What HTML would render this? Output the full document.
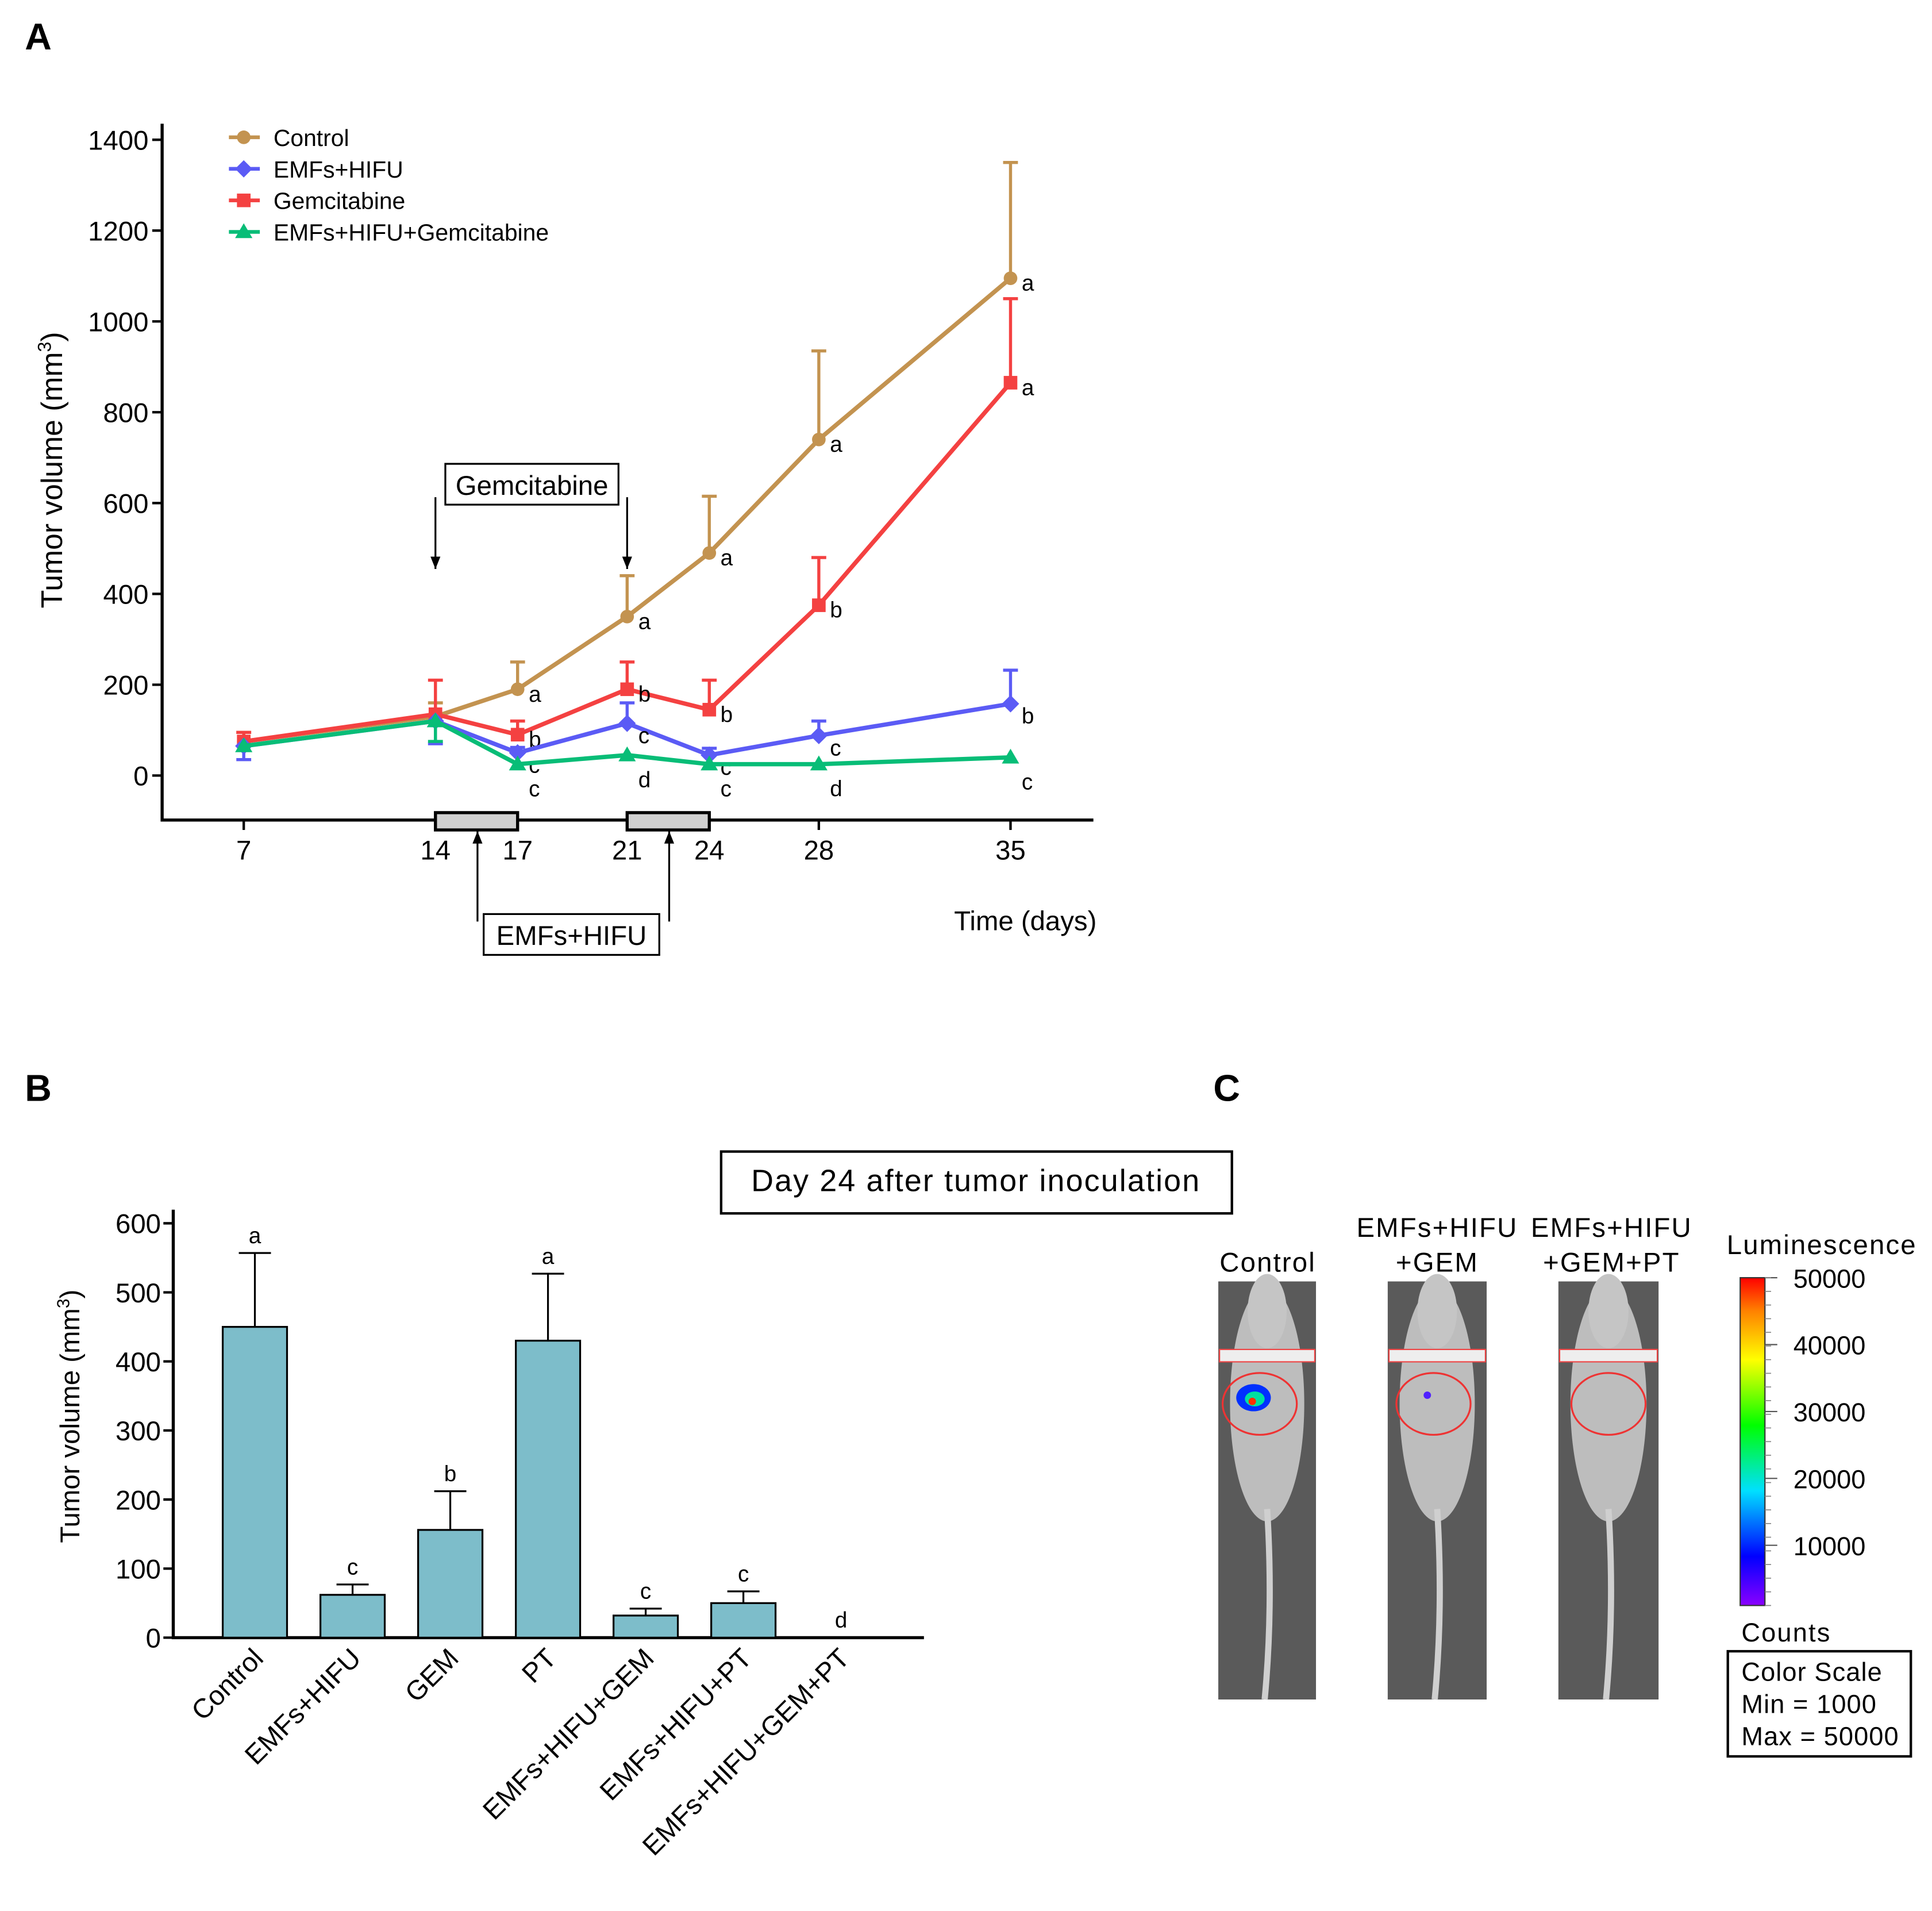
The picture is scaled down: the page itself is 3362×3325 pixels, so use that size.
<!DOCTYPE html>
<html><head><meta charset="utf-8"><style>
html,body{margin:0;padding:0;background:#fff}
svg{display:block}
text{font-family:"Liberation Sans",Arial,sans-serif}
</style></head><body>
<svg id="fig" width="3362" height="3325" viewBox="0 0 1562 1545" xmlns="http://www.w3.org/2000/svg">
<defs>
<linearGradient id="cbar" x1="0" y1="1" x2="0" y2="0">
<stop offset="0" stop-color="#8a00ff"/><stop offset="0.15" stop-color="#0000ff"/><stop offset="0.35" stop-color="#00e0ff"/><stop offset="0.55" stop-color="#00ff00"/><stop offset="0.75" stop-color="#ffff00"/><stop offset="0.9" stop-color="#ff8000"/><stop offset="1" stop-color="#ff0000"/>
</linearGradient>
<linearGradient id="mouse" x1="0" y1="0" x2="1" y2="0">
<stop offset="0" stop-color="#555"/><stop offset="0.5" stop-color="#a8a8a8"/><stop offset="1" stop-color="#555"/>
</linearGradient>
</defs>
<g id="panelA"></g>
<g id="panelB"></g>
<g id="panelC"></g>
</svg>
<script>
// ---- Panel A data ----
const days = [7,14,17,21,24,28,35];
const ctrlVals = [75,130,190,350,490,740,1095];
const ctrlErr = [95,160,250,440,615,935,1350];
const gemVals = [75,135,90,190,145,375,865];
const gemErr = [95,210,120,250,210,480,1050];
const hifuVals = [65,120,50,115,45,88,158];
const hifuErr = [35,70,62,160,60,120,232];
const comboVals = [65,120,25,45,25,25,40];
const comboErr = [65,75,25,45,25,25,40];
const ctrlLetters = ['','','a','a','a','a','a'];
const gemLetters = ['','','b','b','b','b','a'];
const hifuLetters = ['','','c','c','c','c','b'];
const comboLetters = ['','','c','d','c','d','c'];
const yTicksA = [0,200,400,600,800,1000,1200,1400];
// ---- Panel B data ----
const bCats = ['Control','EMFs+HIFU','GEM','PT','EMFs+HIFU+GEM','EMFs+HIFU+PT','EMFs+HIFU+GEM+PT'];
const bVals = [450,62,156,430,32,50,0];
const bErr = [557,77,212,527,42,67,0];
const bLetters = ['a','c','b','a','c','c','d'];
const yTicksB = [0,100,200,300,400,500,600];
const cbarTicks = [10000,20000,30000,40000,50000];

const NS='http://www.w3.org/2000/svg';
function mk(parent,tag,attrs,txt){const e=document.createElementNS(NS,tag);for(const k in attrs)e.setAttribute(k,attrs[k]);if(txt!==undefined)e.textContent=txt;parent.appendChild(e);return e;}

// ===== Panel A =====
const A=document.getElementById('panelA');
const xA=d=>197+(d-7)*(620/28);
const yA=v=>627-v*(514/1400);
let t=mk(A,'text',{x:20,y:40,'font-size':30,'font-weight':'bold'},'A');

let ax=mk(A,'path',{d:'M131,100 V663 H884',fill:'none',stroke:'#000','stroke-width':2.5});

yTicksA.forEach(v=>{
  const y=yA(v);
  let l=mk(A,'line',{x1:123,x2:131,y1:y,y2:y,stroke:'#000','stroke-width':2});
  
  let tx=mk(A,'text',{x:120,y:y+8,'font-size':22,'text-anchor':'end'},String(v));
  
});
days.forEach(d=>{
  const x=xA(d);
  let l=mk(A,'line',{x1:x,x2:x,y1:663,y2:671,stroke:'#000','stroke-width':2});
  
  let tx=mk(A,'text',{x:x,y:695,'font-size':22,'text-anchor':'middle'},String(d));
  
});
let yt=mk(A,'text',{transform:'translate(50,380) rotate(-90)','font-size':24,'text-anchor':'middle'});

yt.innerHTML='Tumor volume (mm<tspan dy="-9" font-size="15">3</tspan><tspan dy="9">)</tspan>';
let xt=mk(A,'text',{x:829,y:752,'font-size':22,'text-anchor':'middle'},'Time (days)');

// treatment boxes
[[14,17],[21,24]].forEach(p=>{
  let r=mk(A,'rect',{x:xA(p[0]),y:657,width:xA(p[1])-xA(p[0]),height:14,fill:'#d0d0d0',stroke:'#000','stroke-width':2.5});
  
});
// arrows
function arrow(x,y1,y2,name){
  let g=mk(A,'g',{});
  mk(g,'line',{x1:x,x2:x,y1:y1,y2:y2,stroke:'#000','stroke-width':1.5});
  const dir=y2>y1?1:-1;
  mk(g,'polygon',{points:`${x-4},${y2-dir*10} ${x+4},${y2-dir*10} ${x},${y2}`,fill:'#000'});
}
arrow(352,402,460,'gem-arrow-1');arrow(507,402,460,'gem-arrow-2');
arrow(386,745,672,'hifu-arrow-1');arrow(541,745,672,'hifu-arrow-2');
let gb=mk(A,'rect',{x:360,y:375,width:140,height:33,fill:'#fff',stroke:'#000','stroke-width':1.5});

let gt=mk(A,'text',{x:430,y:400,'font-size':22,'text-anchor':'middle'},'Gemcitabine');

let hb=mk(A,'rect',{x:391,y:739,width:142,height:33,fill:'#fff',stroke:'#000','stroke-width':1.5});

let ht=mk(A,'text',{x:462,y:764,'font-size':22,'text-anchor':'middle'},'EMFs+HIFU');


function marker(g,shape,x,y,c){
  if(shape==='circle')mk(g,'circle',{cx:x,cy:y,r:5.5,fill:c});
  else if(shape==='square')mk(g,'rect',{x:x-5.5,y:y-5.5,width:11,height:11,fill:c});
  else if(shape==='diamond')mk(g,'polygon',{points:`${x},${y-7} ${x+7},${y} ${x},${y+7} ${x-7},${y}`,fill:c});
  else mk(g,'polygon',{points:`${x},${y-7} ${x+7},${y+5} ${x-7},${y+5}`,fill:c});
}
const series=[
 {name:'control',label:'Control',vals:ctrlVals,err:ctrlErr,let:ctrlLetters,c:'#c39350',s:'circle',down:false,ly:4},
 {name:'gemcitabine',label:'Gemcitabine',vals:gemVals,err:gemErr,let:gemLetters,c:'#f44141',s:'square',down:false,ly:4},
 {name:'emfs-hifu',label:'EMFs+HIFU',vals:hifuVals,err:hifuErr,let:hifuLetters,c:'#5b5bf5',s:'diamond',down:true,ly:10},
 {name:'emfs-hifu-gem',label:'EMFs+HIFU+Gemcitabine',vals:comboVals,err:comboErr,let:comboLetters,c:'#08bd77',s:'triangle',down:true,ly:20},
];
series.forEach(se=>{
  let g=mk(A,'g',{});
  se.vals.forEach((v,i)=>{
    const x=xA(days[i]);const e=se.err[i];
    if(e!==v){
      let eb=mk(g,'path',{d:`M${x},${yA(v)} V${yA(e)} M${x-6},${yA(e)} H${x+6}`,stroke:se.c,'stroke-width':2.5,fill:'none'});
      
    }
  });
  let p=mk(g,'polyline',{points:se.vals.map((v,i)=>xA(days[i])+','+yA(v)).join(' '),fill:'none',stroke:se.c,'stroke-width':3.5});
  
  se.vals.forEach((v,i)=>{
    marker(g,se.s,xA(days[i]),yA(v),se.c);
    if(se.let[i]){let lt=mk(g,'text',{x:xA(days[i])+9,y:yA(v)+se.ly+6,'font-size':18},se.let[i]);
      }
  });
});
// legend
const legOrder=[series[0],series[2],series[1],series[3]];
legOrder.forEach((se,i)=>{
  const y=111+i*25.5;
  let g=mk(A,'g',{});
  mk(g,'line',{x1:185,x2:210,y1:y,y2:y,stroke:se.c,'stroke-width':3});
  marker(g,se.s,197,y,se.c);
  mk(g,'text',{x:221,y:y+7,'font-size':19},se.label);
});

// ===== Panel B =====
const B=document.getElementById('panelB');
const yB=v=>1324-v*(335/600);
const xB=i=>206+i*79;
t=mk(B,'text',{x:20,y:890,'font-size':30,'font-weight':'bold'},'B');

let bx=mk(B,'path',{d:'M140,978 V1324 H747',fill:'none',stroke:'#000','stroke-width':2.5});

yTicksB.forEach(v=>{
  const y=yB(v);
  let l=mk(B,'line',{x1:132,x2:140,y1:y,y2:y,stroke:'#000','stroke-width':2});
  
  let tx=mk(B,'text',{x:130,y:y+8,'font-size':22,'text-anchor':'end'},String(v));
  
});
let byt=mk(B,'text',{transform:'translate(64,1145) rotate(-90)','font-size':22,'text-anchor':'middle'});

byt.innerHTML='Tumor volume (mm<tspan dy="-8" font-size="14">3</tspan><tspan dy="8">)</tspan>';
bCats.forEach((c,i)=>{
  const x=xB(i);
  if(bVals[i]>0){
    let eb=mk(B,'path',{d:`M${x},${yB(bVals[i])} V${yB(bErr[i])} M${x-13},${yB(bErr[i])} H${x+13}`,stroke:'#000','stroke-width':1.5,fill:'none'});
    
    let r=mk(B,'rect',{x:x-26,y:yB(bVals[i]),width:52,height:yB(0)-yB(bVals[i]),fill:'#7dbdca',stroke:'#000','stroke-width':1.5});
    
  }
  let lt=mk(B,'text',{x:x,y:yB(bErr[i])-8,'font-size':18,'text-anchor':'middle'},bLetters[i]);
  
  let tx=mk(B,'text',{transform:`translate(${x+8},${1342}) rotate(-45)`,'font-size':22,'text-anchor':'end'},c);
  
});
let dbx=mk(B,'rect',{x:583,y:931,width:413,height:50,fill:'#fff',stroke:'#000','stroke-width':2});

let dtx=mk(B,'text',{x:789,y:963,'font-size':25,'text-anchor':'middle','letter-spacing':1},'Day 24 after tumor inoculation');


// ===== Panel C =====
const C=document.getElementById('panelC');
t=mk(C,'text',{x:981,y:890,'font-size':30,'font-weight':'bold'},'C');

const mice=[{x:985,w:79,lab:['Control'],ly:[1028],lx:1025,spot:true,dot:false},
            {x:1122,w:80,lab:['EMFs+HIFU','+GEM'],ly:[1000,1028],lx:1162,spot:false,dot:true},
            {x:1260,w:81,lab:['EMFs+HIFU','+GEM+PT'],ly:[1000,1028],lx:1303,spot:false,dot:false}];
mice.forEach((m,i)=>{
  let g=mk(C,'g',{});
  mk(g,'rect',{x:m.x,y:1036,width:m.w,height:338,fill:'#5a5a5a'});
  const cx=m.x+m.w/2;
  mk(g,'ellipse',{cx:cx,cy:1135,rx:m.w*0.38,ry:95,fill:'#bdbdbd'});
  mk(g,'ellipse',{cx:cx,cy:1060,rx:m.w*0.2,ry:30,fill:'#c5c5c5'});
  mk(g,'path',{d:`M${cx},1220 Q${cx+5},1300 ${cx-2},1374`,stroke:'#cfcfcf','stroke-width':5,fill:'none'});
  mk(g,'rect',{x:m.x+1,y:1091,width:m.w-2,height:10,fill:'#eee',stroke:'#e44','stroke-width':1});
  mk(g,'ellipse',{cx:cx-6+(i*3),cy:1135,rx:30,ry:25,fill:'none',stroke:'#e33','stroke-width':1.5});
  if(m.spot){mk(g,'ellipse',{cx:cx-11,cy:1130,rx:14,ry:11,fill:'#0030ff'});mk(g,'ellipse',{cx:cx-10,cy:1131,rx:8,ry:6,fill:'#00e0a0'});mk(g,'circle',{cx:cx-12,cy:1133,r:3,fill:'#ff3000'});}
  if(m.dot)mk(g,'circle',{cx:cx-8,cy:1128,r:3,fill:'#5020ff'});
  m.lab.forEach((l,j)=>{let tx=mk(C,'text',{x:m.lx,y:m.ly[j],'font-size':22,'text-anchor':'middle','letter-spacing':1},l);
    });
});
let lum=mk(C,'text',{x:1473,y:1014,'font-size':22,'text-anchor':'middle','letter-spacing':1},'Luminescence');

let cb=mk(C,'rect',{x:1407,y:1033,width:20,height:265,fill:'url(#cbar)',stroke:'#333','stroke-width':1});

const cbY=v=>1298-(v-1000)*(265/49000);
cbarTicks.forEach(v=>{
  let l=mk(C,'line',{x1:1427,x2:1437,y1:cbY(v),y2:cbY(v),stroke:'#555','stroke-width':1});
  
  let tx=mk(C,'text',{x:1450,y:cbY(v)+8,'font-size':21},String(v));
  
});
for(let k=0;k<25;k++){const y=1033+k*265/24;mk(C,'line',{x1:1427,x2:1432,y1:y,y2:y,stroke:'#888','stroke-width':0.8});}
let cnt=mk(C,'text',{x:1408,y:1327,'font-size':21,'letter-spacing':1},'Counts');

let csb=mk(C,'rect',{x:1397,y:1335,width:148,height:85,fill:'#fff',stroke:'#000','stroke-width':2});

['Color Scale','Min = 1000','Max = 50000'].forEach((s,j)=>{
  let tx=mk(C,'text',{x:1408,y:1359+j*26,'font-size':21,'letter-spacing':0.5},s);
  
});
</script>
</body></html>
